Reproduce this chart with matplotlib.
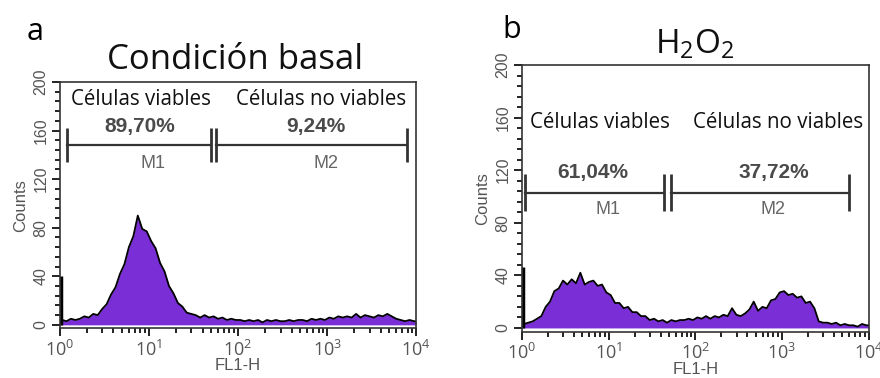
#flow_histograms.py
#Two flow cytometry histograms (FL1-H) with M1/M2 markers
import numpy as np
import matplotlib.pyplot as plt
from matplotlib.ticker import LogLocator, MultipleLocator, FixedLocator

plt.rcParams['font.family'] = ['Open Sans', 'DejaVu Sans']
plt.rcParams['mathtext.fontset'] = 'custom'
plt.rcParams['mathtext.rm'] = 'Open Sans'

#Channel centres in decades, 20 per decade
decades = np.arange(0.025, 4.0, 0.05)

#Counts, panel a (basal)
counts_a = [4, 3, 5, 4, 5, 7, 6, 9, 8, 13,
            17, 25, 31, 42, 50, 64, 73, 90, 79, 77,
            69, 63, 51, 44, 32, 26, 18, 15, 10, 9,
            8, 6, 8, 6, 7, 5, 6, 4, 5, 4,
            4, 3, 4, 3, 4, 2, 4, 3, 4, 3,
            3, 4, 3, 4, 4, 3, 5, 4, 5, 4,
            6, 5, 7, 6, 7, 6, 9, 6, 8, 7,
            6, 8, 7, 9, 7, 5, 4, 3, 4, 3]
#Counts, panel b (H2O2)
counts_b = [3, 4, 5, 7, 9, 16, 20, 28, 30, 36,
            33, 37, 34, 42, 33, 35, 36, 32, 33, 27,
            25, 19, 19, 15, 16, 12, 12, 9, 9, 6,
            7, 5, 6, 4, 6, 5, 6, 6, 7, 6,
            8, 7, 9, 7, 9, 8, 10, 9, 15, 10,
            9, 11, 14, 20, 13, 16, 15, 21, 22, 27,
            28, 25, 26, 23, 24, 19, 20, 15, 5, 4,
            4, 3, 4, 2, 3, 2, 2, 1, 3, 2]
first_channel = [40, 46]   #spike in the very first channel

titles = ["Condición basal", r"$\mathrm{H_2O_2}$"]
letters = ["a", "b"]
labels_viable = ["Células viables", "Células no viables"]
pct = [["89,70%", "9,24%"], ["61,04%", "37,72%"]]
m1 = [(1.2, 50), (1.08, 44)]
m2 = [(57, 7900), (53, 5900)]
marker_y = [148, 103]

purple = "#7a2ed6"
grey = "#555555"

fig = plt.figure(figsize=(8.8, 3.78), dpi=100)
ax_a = fig.add_axes([0.068, 0.131, 0.405, 0.652])
ax_b = fig.add_axes([0.593, 0.122, 0.394, 0.706])

#text positions (x data, y data) for each panel
txt_pos = [
    dict(v=(8.2, 186), nv=(850, 186), p1=(7.8, 163), p2=(740, 163), m1=(11, 133), m2=(960, 133)),
    dict(v=(8, 156), nv=(910, 156), p1=(6.5, 118), p2=(800, 118), m1=(9.9, 90), m2=(800, 90)),
]

for i, ax in enumerate([ax_a, ax_b]):
    counts = [counts_a, counts_b][i]
    x = np.concatenate([[1.0], 10 ** decades, [1e4]])
    y = np.concatenate([[counts[0]], counts, [counts[-1]]])
    ax.fill_between(x, 0, y, color=purple, lw=0)
    ax.plot(x, y, color='black', lw=1.3)
    ax.vlines(1.03, 0, first_channel[i], color='black', lw=2.5)

    ax.set_xscale('log')
    ax.set_xlim(1, 1e4)
    ax.set_ylim(-3, 200)
    ax.xaxis.set_major_locator(FixedLocator([1, 10, 100, 1000, 10000]))
    ax.xaxis.set_minor_locator(LogLocator(base=10, subs=np.arange(2, 10), numticks=20))
    ax.yaxis.set_major_locator(MultipleLocator(40))
    ax.yaxis.set_minor_locator(MultipleLocator(8))
    ax.set_xticklabels([r"$10^{%d}$" % k for k in range(5)])
    ax.tick_params(which='major', direction='out', length=6, width=1.4, colors='#222',
                   labelcolor=grey, labelsize=13, pad=2)
    ax.tick_params(which='minor', direction='out', length=3.5, width=1.4, colors='#222')
    ax.tick_params(axis='y', labelrotation=90, labelsize=11.5)
    for lab in ax.get_yticklabels():
        lab.set_va('center')
        lab.set_family('Liberation Sans')
    for sp in ax.spines.values():
        sp.set_linewidth(1.2)
        sp.set_color('#333')
    ax.set_xlabel("FL1-H", fontsize=12, color=grey, family='Liberation Sans', labelpad=-1)
    ax.set_ylabel("Counts", fontsize=12, color=grey, family='Liberation Sans', labelpad=4)

    #markers
    yy = marker_y[i]
    cap = 14
    for (lo, hi) in [m1[i], m2[i]]:
        ax.plot([lo, hi], [yy, yy], color='#333', lw=1.6)
        ax.vlines([lo, hi], yy - cap, yy + cap, color='#333', lw=2)

    tp = txt_pos[i]
    ax.text(*tp['v'], labels_viable[0], ha='center', va='center', fontsize=14.8, color='#111')
    ax.text(*tp['nv'], labels_viable[1], ha='center', va='center', fontsize=14.8, color='#111')
    ax.text(*tp['p1'], pct[i][0], ha='center', va='center', fontsize=15, color='#4a4a4a',
            family='Liberation Sans', weight='bold')
    ax.text(*tp['p2'], pct[i][1], ha='center', va='center', fontsize=15, color='#4a4a4a',
            family='Liberation Sans', weight='bold')
    ax.text(*tp['m1'], "M1", ha='center', va='center', fontsize=13, color='#666',
            family='Liberation Sans')
    ax.text(*tp['m2'], "M2", ha='center', va='center', fontsize=13, color='#666',
            family='Liberation Sans')

fig.text(35 / 880, 1 - 32 / 378, letters[0], fontsize=22, ha='center', va='center')
fig.text(512 / 880, 1 - 30 / 378, letters[1], fontsize=22, ha='center', va='center')
fig.text(235 / 880, 1 - 60 / 378, titles[0], fontsize=25, ha='center', va='center', color='#111')
fig.text(695 / 880, 1 - 45 / 378, titles[1], fontsize=24, ha='center', va='center', color='#111')

fig.savefig("out.png", dpi=100)
